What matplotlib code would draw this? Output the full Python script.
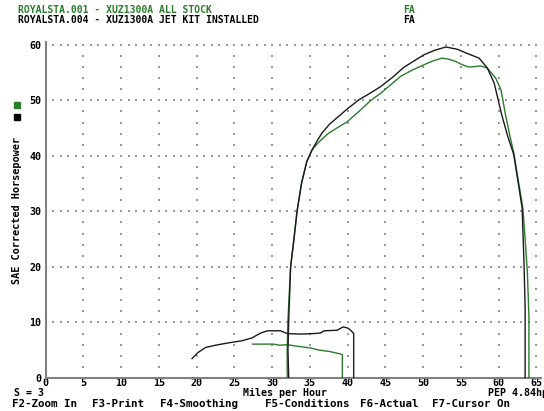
import matplotlib
matplotlib.use("Agg")
import matplotlib.pyplot as plt
import numpy as np

# ---- data ----
stock_low_mph = [27.4, 28.5, 30.2, 31.0, 32.0, 32.9, 34.0, 35.1, 36.0, 36.9, 37.5, 38.2, 39.1, 39.3, 39.3]
stock_low_hp = [6.1, 6.1, 6.1, 5.9, 6.0, 5.8, 5.6, 5.4, 5.1, 4.9, 4.8, 4.6, 4.3, 4.2, 0.0]

stock_mph = [32.0, 32.0, 32.1, 32.45, 33.3, 33.9, 34.6, 35.3, 36.2, 37.5, 38.8, 40.0, 41.5, 43.0,
             44.4, 45.7, 47.0, 48.5, 50.1, 51.3, 52.5, 53.4, 54.3, 55.2, 56.0, 57.0, 57.6, 58.5,
             59.6, 60.3, 60.9, 61.5, 62.0, 62.6, 63.2, 63.5, 63.8, 64.0, 64.0]
stock_hp = [0.0, 5.0, 10.5, 20.0, 30.0, 35.1, 39.0, 41.1, 42.5, 44.1, 45.2, 46.2, 48.0, 49.9,
            51.3, 52.8, 54.3, 55.4, 56.4, 57.1, 57.6, 57.4, 57.0, 56.4, 56.0, 56.1, 56.2, 55.8,
            54.0, 51.9, 47.4, 43.5, 40.5, 35.5, 30.6, 25.0, 18.9, 11.0, 0.0]

jet_low_mph = [19.4, 20.2, 21.2, 22.5, 24.1, 26.0, 27.3, 28.5, 29.4, 31.1, 32.0, 33.8, 35.5,
               36.4, 36.9, 38.6, 39.4, 40.0, 40.4, 40.8, 40.8]
jet_low_hp = [3.5, 4.6, 5.5, 5.9, 6.3, 6.7, 7.2, 8.1, 8.5, 8.5, 8.0, 7.9, 8.0,
              8.1, 8.5, 8.6, 9.2, 9.0, 8.6, 8.0, 0.0]

jet_mph = [32.2, 32.1, 32.2, 32.45, 32.9, 33.3, 33.9, 34.6, 35.3, 36.0, 36.6, 37.6, 38.8, 40.0,
           41.5, 43.0, 44.4, 46.0, 47.4, 48.8, 50.1, 51.5, 53.0, 54.5, 55.9, 57.4, 58.5, 59.4,
           60.4, 61.2, 62.0, 62.6, 63.1, 63.35, 63.5, 63.5]
jet_hp = [0.0, 5.0, 10.5, 20.0, 25.0, 30.0, 35.1, 39.0, 41.1, 42.8, 44.1, 45.7, 47.1, 48.5,
          50.1, 51.3, 52.5, 54.2, 55.9, 57.1, 58.2, 59.0, 59.6, 59.2, 58.4, 57.6, 55.8, 53.1,
          47.4, 43.5, 40.2, 35.0, 30.6, 20.7, 12.6, 0.0]

x_ticks = list(range(0, 66, 5))
y_ticks = list(range(0, 61, 10))

fkeys = ["F2-Zoom In", "F3-Print", "F4-Smoothing", "F5-Conditions", "F6-Actual", "F7-Cursor On"]

GREEN = "#2a7d2a"
BLACK = "#1a1a1a"
FONT = "DejaVu Sans Mono"

fig = plt.figure(figsize=(5.44, 4.11), dpi=100)
ax = fig.add_axes([45.5 / 544, 33 / 411, 495.5 / 544, 336 / 411])
ax.set_xlim(0, 65.6)
ax.set_ylim(0, 60.5)

# dotted grid
gx = [x for x in x_ticks if x > 0]
gy_dots = np.arange(2, 61, 2)
X, Y = np.meshgrid(gx, gy_dots)
ax.scatter(X.ravel(), Y.ravel(), s=0.8, c="#999999", marker="s", linewidths=0, zorder=1)
hy = [y for y in y_ticks if y > 0]
hx_dots = np.arange(1, 66, 1)
X2, Y2 = np.meshgrid(hx_dots, hy)
ax.scatter(X2.ravel(), Y2.ravel(), s=0.8, c="#999999", marker="s", linewidths=0, zorder=1)

ax.plot(stock_low_mph, stock_low_hp, color=GREEN, lw=1.0, zorder=3)
ax.plot(stock_mph, stock_hp, color=GREEN, lw=1.0, zorder=3)
ax.plot(jet_low_mph, jet_low_hp, color=BLACK, lw=1.0, zorder=4)
ax.plot(jet_mph, jet_hp, color=BLACK, lw=1.0, zorder=4)

for s in ["top", "right"]:
    ax.spines[s].set_visible(False)
for s in ["left", "bottom"]:
    ax.spines[s].set_color("#808080")
    ax.spines[s].set_linewidth(1.5)

ax.set_xticks(x_ticks)
ax.set_yticks(y_ticks)
ax.tick_params(axis="x", length=0, labelsize=7.2, pad=0.3)
ax.tick_params(axis="y", length=0, labelsize=7.2, pad=3)
for lab in ax.get_xticklabels() + ax.get_yticklabels():
    lab.set_fontfamily(FONT)
    lab.set_fontweight("bold")

def ftext(x, y, s, color="black", size=7.0, **kw):
    fig.text(x / 544, 1 - y / 411, s, color=color, fontfamily=FONT, fontweight="bold",
             fontsize=size, va="center", **kw)

ftext(18, 10, "ROYALSTA.001 - XUZ1300A ALL STOCK", color=GREEN)
ftext(18, 20, "ROYALSTA.004 - XUZ1300A JET KIT INSTALLED")
ftext(403, 10, "FA", color=GREEN)
ftext(403, 20, "FA")
ftext(14, 393, "S = 3", size=7.2)
ftext(243, 393, "Miles per Hour", size=7.2)
ftext(488, 393, "PEP 4.84hp", size=7.2)
for xpos, s in zip([12, 92, 160, 265, 360, 432], fkeys):
    ftext(xpos, 404, s, size=7.8)

fig.text(17 / 544, 1 - 210 / 411, "SAE Corrected Horsepower", rotation=90, color="black",
         fontfamily=FONT, fontweight="bold", fontsize=7.4, ha="center", va="center")

fig.patches.append(plt.Rectangle((14 / 544, 1 - 108 / 411), 6 / 544, 6 / 411,
                                 transform=fig.transFigure, color=GREEN, figure=fig))
fig.patches.append(plt.Rectangle((14 / 544, 1 - 120 / 411), 6 / 544, 6 / 411,
                                 transform=fig.transFigure, color="black", figure=fig))

fig.savefig("out.png", dpi=100)
